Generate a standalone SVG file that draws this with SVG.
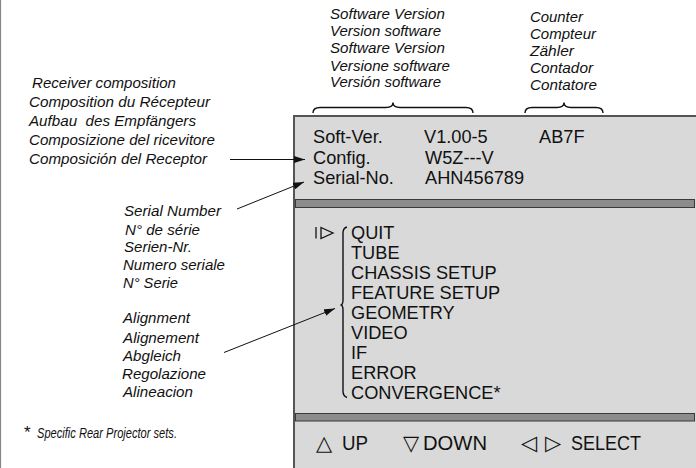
<svg xmlns="http://www.w3.org/2000/svg" width="696" height="468" viewBox="0 0 696 468">
<style>
.it{font-family:"Liberation Sans",Arial,sans-serif;font-style:italic;font-size:14px;fill:#111}
.sc{font-family:"Liberation Sans",Arial,sans-serif;font-size:18.2px;fill:#111}
.bt{font-family:"Liberation Sans",Arial,sans-serif;font-size:20.5px;fill:#111}
.sym{font-family:"DejaVu Sans",sans-serif;font-size:21px;fill:#111}
.br{fill:none;stroke:#111;stroke-width:1.4}
.bar{fill:#8c8c8c;stroke:#3a3a3a;stroke-width:1}
.con{stroke:#111;stroke-width:1;fill:none}
</style>
<defs>
<marker id="ah" markerWidth="11" markerHeight="7" refX="11" refY="3.5" orient="auto" markerUnits="userSpaceOnUse">
<path d="M0,0 L11,3.5 L0,7 Z" fill="#111"/>
</marker>
</defs>
<rect x="0" y="0" width="696" height="468" fill="#fff"/>
<line x1="0.5" y1="0" x2="0.5" y2="468" stroke="#888" stroke-width="1.2"/>

<g id="screen">
<rect x="294" y="116" width="404" height="356" fill="#d9d9d9" stroke="#555" stroke-width="2"/>
<rect class="bar" x="295.5" y="199.5" width="399" height="8"/>
<rect class="bar" x="295.5" y="413.5" width="399" height="7.5"/>
</g>

<g id="info">
<text class="sc" x="313" y="143">Soft-Ver.</text>
<text class="sc" x="424" y="143">V1.00-5</text>
<text class="sc" x="539" y="143">AB7F</text>
<text class="sc" x="313" y="163.5">Config.</text>
<text class="sc" x="425" y="163.5">W5Z---V</text>
<text class="sc" x="313" y="184">Serial-No.</text>
<text class="sc" x="425" y="184">AHN456789</text>
</g>

<g id="menu">
<line x1="316" y1="227" x2="316" y2="238.5" stroke="#111" stroke-width="1.3"/>
<polygon points="321,227.5 333,233 321,238.5" fill="none" stroke="#111" stroke-width="1.3"/>
<path class="br" d="M347,227 Q343,228 343,233 L343,300 Q343,305 340.5,305 Q343,305 343,310 L343,391 Q343,396 347,397.5" stroke-width="1.2"/>
<text class="sc" x="351" y="238.5">QUIT</text>
<text class="sc" x="351" y="258.5">TUBE</text>
<text class="sc" x="351" y="279">CHASSIS SETUP</text>
<text class="sc" x="351" y="299">FEATURE SETUP</text>
<text class="sc" x="351" y="319">GEOMETRY</text>
<text class="sc" x="351" y="339">VIDEO</text>
<text class="sc" x="351" y="359">IF</text>
<text class="sc" x="351" y="379">ERROR</text>
<text class="sc" x="351" y="399">CONVERGENCE*</text>
</g>

<g id="keys">
<text class="sym" x="316" y="450">△</text>
<text class="bt" x="342" y="450" textLength="26" lengthAdjust="spacingAndGlyphs">UP</text>
<text class="sym" x="403" y="450">▽</text>
<text class="bt" x="423" y="450" textLength="64" lengthAdjust="spacingAndGlyphs">DOWN</text>
<text class="sym" x="521" y="450">◁</text>
<text class="sym" x="545" y="450">▷</text>
<text class="bt" x="571" y="450" textLength="70" lengthAdjust="spacingAndGlyphs">SELECT</text>
</g>

<g id="software-label">
<path class="br" d="M313,113 Q313,107.5 320,107.5 L386,107.5 Q393,107.5 393,102.5 Q393,107.5 400,107.5 L466,107.5 Q473,107.5 473,113"/>
<text class="it" x="330" y="19" textLength="115" lengthAdjust="spacingAndGlyphs">Software Version</text>
<text class="it" x="330" y="36" textLength="111" lengthAdjust="spacingAndGlyphs">Version software</text>
<text class="it" x="330" y="53" textLength="115" lengthAdjust="spacingAndGlyphs">Software Version</text>
<text class="it" x="330" y="70.5" textLength="120" lengthAdjust="spacingAndGlyphs">Versione software</text>
<text class="it" x="330" y="87" textLength="111" lengthAdjust="spacingAndGlyphs">Versión software</text>
</g>

<g id="counter-label">
<path class="br" d="M525,113 Q525,107.5 532,107.5 L557,107.5 Q564,107.5 564,102.5 Q564,107.5 571,107.5 L596,107.5 Q603,107.5 603,113"/>
<text class="it" x="530" y="21.5" textLength="53" lengthAdjust="spacingAndGlyphs">Counter</text>
<text class="it" x="530" y="38.5" textLength="66" lengthAdjust="spacingAndGlyphs">Compteur</text>
<text class="it" x="530" y="55.5" textLength="44" lengthAdjust="spacingAndGlyphs">Zähler</text>
<text class="it" x="530" y="73" textLength="63" lengthAdjust="spacingAndGlyphs">Contador</text>
<text class="it" x="530" y="90" textLength="67" lengthAdjust="spacingAndGlyphs">Contatore</text>
</g>

<g id="composition-label">
<text class="it" x="32" y="88" textLength="144" lengthAdjust="spacingAndGlyphs">Receiver composition</text>
<text class="it" x="29" y="107" textLength="181" lengthAdjust="spacingAndGlyphs">Composition du Récepteur</text>
<text class="it" x="29" y="126" textLength="167" lengthAdjust="spacingAndGlyphs" xml:space="preserve">Aufbau  des Empfängers</text>
<text class="it" x="29" y="145" textLength="186" lengthAdjust="spacingAndGlyphs">Composizione del ricevitore</text>
<text class="it" x="29" y="164" textLength="178" lengthAdjust="spacingAndGlyphs">Composición del Receptor</text>
</g>

<g id="serial-label">
<text class="it" x="124" y="216" textLength="97" lengthAdjust="spacingAndGlyphs">Serial Number</text>
<text class="it" x="125" y="235" textLength="75" lengthAdjust="spacingAndGlyphs">N° de série</text>
<text class="it" x="124" y="252" textLength="68" lengthAdjust="spacingAndGlyphs">Serien-Nr.</text>
<text class="it" x="123" y="270" textLength="102" lengthAdjust="spacingAndGlyphs">Numero seriale</text>
<text class="it" x="123" y="287.5" textLength="55" lengthAdjust="spacingAndGlyphs">N° Serie</text>
</g>

<g id="alignment-label">
<text class="it" x="123" y="323" textLength="67" lengthAdjust="spacingAndGlyphs">Alignment</text>
<text class="it" x="123" y="342.5" textLength="76" lengthAdjust="spacingAndGlyphs">Alignement</text>
<text class="it" x="123" y="361" textLength="58" lengthAdjust="spacingAndGlyphs">Abgleich</text>
<text class="it" x="122" y="378.5" textLength="84" lengthAdjust="spacingAndGlyphs">Regolazione</text>
<text class="it" x="123" y="397" textLength="70" lengthAdjust="spacingAndGlyphs">Alineacion</text>
</g>

<g id="footnote">
<text x="24" y="438" font-family="Liberation Sans,Arial,sans-serif" font-size="17" fill="#111">*</text>
<text class="it" x="37" y="438" font-size="14.5" textLength="140" lengthAdjust="spacingAndGlyphs">Specific Rear Projector sets.</text>
</g>

<g id="connectors">
<line class="con" x1="230" y1="159.5" x2="305" y2="159.5" marker-end="url(#ah)"/>
<line class="con" x1="237" y1="209" x2="304" y2="182" marker-end="url(#ah)"/>
<line class="con" x1="224" y1="352.5" x2="335" y2="308.5" marker-end="url(#ah)"/>
</g>
</svg>
